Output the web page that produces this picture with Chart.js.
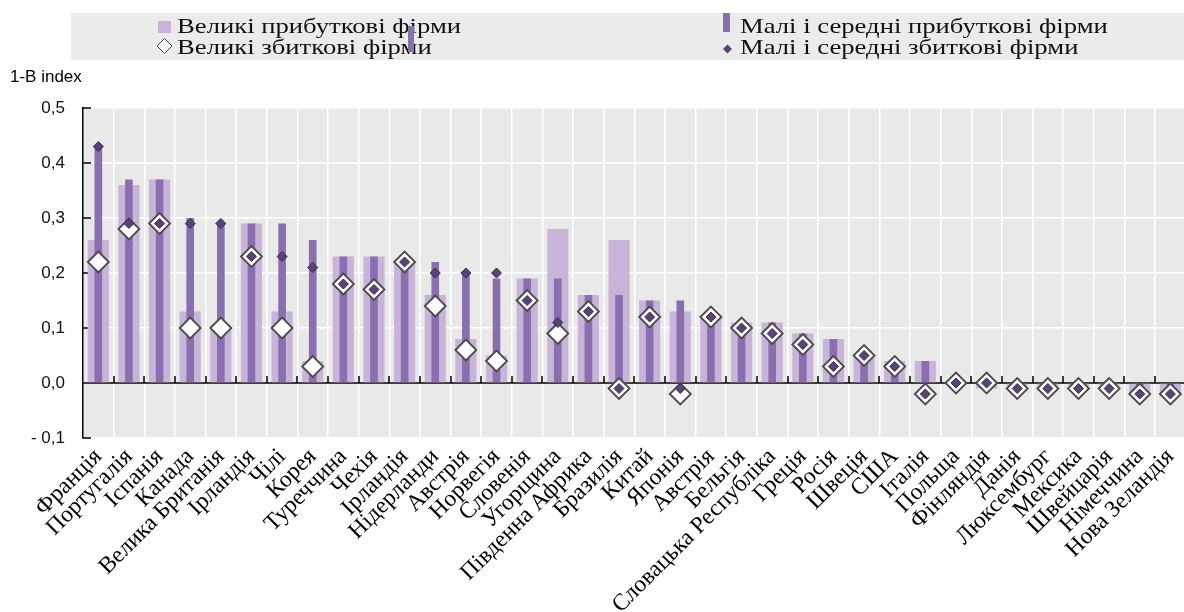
<!DOCTYPE html>
<html lang="uk">
<head>
<meta charset="UTF-8">
<title>1-B index</title>
<script src="https://cdn.jsdelivr.net/npm/chart.js"></script>
<style>
  html, body { margin: 0; padding: 0; background: #fff; overflow: hidden; }
  #wrap { width: 1198px; height: 612px; }
</style>
</head>
<body>
<div id="wrap"><canvas id="chart" width="1198" height="612"></canvas></div>
<script>
const countries = ['Франція', 'Португалія', 'Іспанія', 'Канада', 'Велика Британія', 'Ірландія', 'Чілі', 'Корея',
    'Туреччина', 'Чехія', 'Ірландія', 'Нідерланди', 'Австрія', 'Норвегія', 'Словенія', 'Угорщина',
    'Південна Африка', 'Бразилія', 'Китай', 'Японія', 'Австрія', 'Бельгія', 'Словацька Республіка', 'Греція',
    'Росія', 'Швеція', 'США', 'Італія', 'Польща', 'Фінляндія', 'Данія', 'Люксембург', 'Мексика',
    'Швейцарія', 'Німеччина', 'Нова Зеландія'];

// large profitable firms (wide light bars)
const largeProfit = [0.26, 0.36, 0.37, 0.13, 0.10, 0.29, 0.13, 0.04, 0.23, 0.23, 0.22, 0.16, 0.08, 0.05, 0.19, 0.28,
    0.16, 0.26, 0.15, 0.13, 0.12, 0.11, 0.11, 0.09, 0.08, 0.05, 0.04, 0.04, 0, -0.01, -0.005, -0.005, -0.005,
    -0.005, -0.02, -0.02];
// small and medium profitable firms (narrow dark bars)
const smeProfit = [0.43, 0.37, 0.37, 0.30, 0.29, 0.29, 0.29, 0.26, 0.23, 0.23, 0.22, 0.22, 0.20, 0.19, 0.19, 0.19,
    0.16, 0.16, 0.15, 0.15, 0.12, 0.10, 0.11, 0.09, 0.08, 0.05, 0.03, 0.04, 0, 0, -0.005, -0.005, -0.005,
    -0.005, -0.02, -0.02];
// large loss-making firms (white diamonds)
const largeLoss = [0.22, 0.28, 0.29, 0.10, 0.10, 0.23, 0.10, 0.03, 0.18, 0.17, 0.22, 0.14, 0.06, 0.04, 0.15, 0.09,
    0.13, -0.01, 0.12, -0.02, 0.12, 0.10, 0.09, 0.07, 0.03, 0.05, 0.03, -0.02, 0, 0, -0.01, -0.01, -0.01,
    -0.01, -0.02, -0.02];
// small and medium loss-making firms (small dark diamonds)
const smeLoss = [0.43, 0.29, 0.29, 0.29, 0.29, 0.23, 0.23, 0.21, 0.18, 0.17, 0.22, 0.20, 0.20, 0.20, 0.15, 0.11,
    0.13, -0.01, 0.12, -0.01, 0.12, 0.10, 0.09, 0.07, 0.03, 0.05, 0.03, -0.02, 0, 0, -0.01, -0.01, -0.01,
    -0.01, -0.02, -0.02];

const yTicks = [-0.1, 0, 0.1, 0.2, 0.3, 0.4, 0.5];
const yTickLabels = ['- 0,1', '0,0', '0,1', '0,2', '0,3', '0,4', '0,5'];
const yTitle = '1-B index';

const seriesNames = ['Великі прибуткові фірми', 'Малі і середні прибуткові фірми',
    'Великі збиткові фірми', 'Малі і середні збиткові фірми'];

const LIGHT = '#c9b4d9';
const DARK = '#8a6fb0';
const DOT = '#5b4377';
const SERIF = '"Liberation Serif", "Times New Roman", serif';
const SANS = '"Liberation Sans", Arial, sans-serif';

// grey plot background
const plotBackground = {
    id: 'plotBackground',
    beforeDraw(chart) {
        const {ctx, chartArea: a} = chart;
        ctx.save();
        ctx.fillStyle = '#e9e9e9';
        ctx.fillRect(a.left, a.top, a.right - a.left, a.bottom - a.top);
        ctx.restore();
    }
};

// black zero line with small ticks between categories, inner ticks on y axis
const axisMarks = {
    id: 'axisMarks',
    beforeDatasetsDraw(chart) {
        const {ctx, chartArea: a, scales} = chart;
        const y0 = scales.y.getPixelForValue(0);
        ctx.save();
        ctx.strokeStyle = '#000';
        ctx.lineWidth = 1.5;
        ctx.beginPath();
        ctx.moveTo(a.left, y0);
        ctx.lineTo(a.right, y0);
        for (let i = 1; i < countries.length; i++) {
            const px = Math.round((scales.x.getPixelForTick(i - 1) + scales.x.getPixelForTick(i)) / 2);
            ctx.moveTo(px, y0);
            ctx.lineTo(px, y0 - 7);
        }
        yTicks.forEach(v => {
            const py = scales.y.getPixelForValue(v);
            ctx.moveTo(a.left, py);
            ctx.lineTo(a.left + 8, py);
        });
        ctx.stroke();
        ctx.restore();
    }
};

// the source text is wide and low, so legend labels are stretched sideways
function wideText(ctx, text, x, y) {
    ctx.save();
    ctx.translate(x, y);
    ctx.scale(1.27, 1);
    ctx.fillText(text, 0, 0);
    ctx.restore();
}

// legend box and y title, drawn by hand to keep the original layout
const legendBox = {
    id: 'legendBox',
    afterDraw(chart) {
        const ctx = chart.ctx;
        ctx.save();
        ctx.fillStyle = '#ebebeb';
        ctx.fillRect(71, 13, chart.width - 71, 47);

        ctx.fillStyle = '#111';
        ctx.font = '21px ' + SERIF;
        ctx.textBaseline = 'alphabetic';
        wideText(ctx, seriesNames[0], 177, 33);
        wideText(ctx, seriesNames[2], 177, 54);
        wideText(ctx, seriesNames[1], 740, 33);
        wideText(ctx, seriesNames[3], 740, 54);

        ctx.fillStyle = LIGHT;
        ctx.fillRect(158, 21, 13, 12);
        ctx.fillStyle = DARK;
        ctx.fillRect(723, 13, 7, 19);
        ctx.fillRect(408, 26, 6, 26);

        ctx.beginPath();
        ctx.moveTo(157, 46); ctx.lineTo(164.5, 38.5); ctx.lineTo(172, 46); ctx.lineTo(164.5, 53.5); ctx.closePath();
        ctx.fillStyle = '#fff';
        ctx.fill();
        ctx.strokeStyle = '#444';
        ctx.lineWidth = 1;
        ctx.stroke();

        ctx.beginPath();
        ctx.moveTo(723, 49); ctx.lineTo(727.5, 44.5); ctx.lineTo(732, 49); ctx.lineTo(727.5, 53.5); ctx.closePath();
        ctx.fillStyle = DOT;
        ctx.fill();

        ctx.font = '17px ' + SANS;
        ctx.fillStyle = '#000';
        ctx.fillText(yTitle, 10, 82);
        ctx.restore();
    }
};

new Chart(document.getElementById('chart'), {
    type: 'bar',
    data: {
        labels: countries,
        datasets: [
            {
                type: 'line', label: seriesNames[3], data: smeLoss, showLine: false,
                pointStyle: 'rectRot', pointRadius: 5, pointHoverRadius: 5,
                pointBackgroundColor: DOT, pointBorderColor: '#3a2a4e', pointBorderWidth: 1, order: 1
            },
            {
                type: 'line', label: seriesNames[2], data: largeLoss, showLine: false,
                pointStyle: 'rectRot', pointRadius: 10.5, pointHoverRadius: 10.5,
                pointBackgroundColor: '#fff', pointBorderColor: '#4a4a4a', pointBorderWidth: 1.8, order: 2
            },
            {
                label: seriesNames[1], data: smeProfit, backgroundColor: DARK,
                barPercentage: 0.25, categoryPercentage: 1, grouped: false, order: 3
            },
            {
                label: seriesNames[0], data: largeProfit, backgroundColor: LIGHT,
                barPercentage: 0.69, categoryPercentage: 1, grouped: false, order: 4
            }
        ]
    },
    options: {
        responsive: false,
        devicePixelRatio: 1,
        animation: false,
        events: [],
        layout: { padding: { top: 108, right: 2, left: 0, bottom: 0 } },
        plugins: {
            legend: { display: false },
            tooltip: { enabled: false }
        },
        scales: {
            x: {
                afterFit: s => { s.height = 174; },
                grid: { color: '#fff', lineWidth: 1.5, drawTicks: false },
                border: { display: false },
                ticks: {
                    autoSkip: false, maxRotation: 45, minRotation: 45, padding: 5,
                    color: '#000', font: { family: SERIF, size: 23.5 }
                }
            },
            y: {
                min: -0.1, max: 0.5,
                afterFit: s => { s.width = 83; },
                afterBuildTicks: s => { s.ticks = yTicks.map(v => ({ value: v })); },
                grid: { color: '#fff', lineWidth: 1.5, drawTicks: false },
                border: { display: true, color: '#000', width: 1.5 },
                ticks: {
                    padding: 18, color: '#111', font: { family: SANS, size: 17 },
                    callback: (v, i) => yTickLabels[i]
                }
            }
        }
    },
    plugins: [plotBackground, axisMarks, legendBox]
});
</script>
</body>
</html>
